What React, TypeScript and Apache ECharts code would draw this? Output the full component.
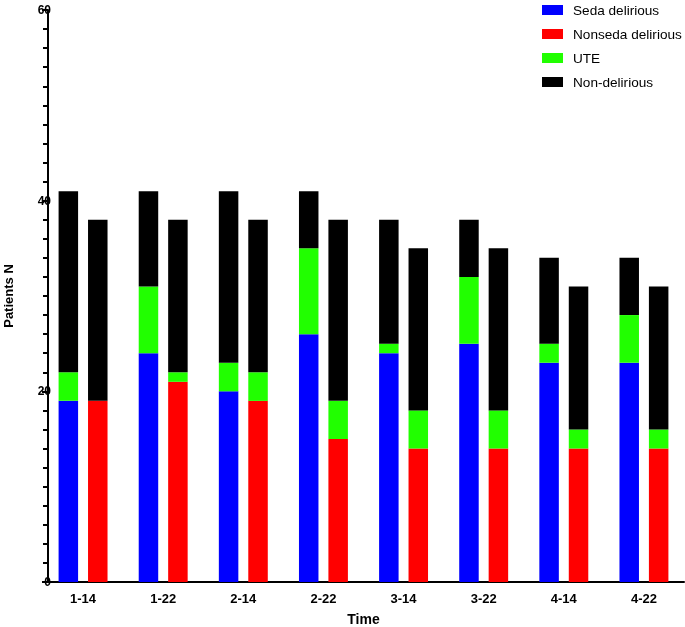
import React, { useEffect, useRef } from "react";
import * as echarts from "echarts";

const categories = ["1-14", "1-22", "2-14", "2-22", "3-14", "3-22", "4-14", "4-22"];
// Left bar of each pair
const sedaDelirious = [19, 24, 20, 26, 24, 25, 23, 23];
const uteLeft = [3, 7, 3, 9, 1, 7, 2, 5];
const nonDeliriousLeft = [19, 10, 18, 6, 13, 6, 9, 6];
// Right bar of each pair
const nonsedaDelirious = [19, 21, 19, 15, 14, 14, 14, 14];
const uteRight = [0, 1, 3, 4, 4, 4, 2, 2];
const nonDeliriousRight = [19, 16, 16, 19, 17, 17, 15, 15];

const yTicks = { min: 0, max: 60, interval: 20 };

const FONT = "'Liberation Sans', Arial, sans-serif";
const BLUE = "#0000ff";
const RED = "#ff0000";
const GREEN = "#21ff00";
const BLACK = "#000000";

export default function App() {
  const ref = useRef<HTMLDivElement>(null);
  useEffect(() => {
    if (!ref.current) return;
    const chart = echarts.init(ref.current, null, { renderer: "svg" });
    const barBase = { type: "bar" as const, barWidth: 19.5, barGap: "51%" };
    chart.setOption({
      animation: false,
      textStyle: { fontFamily: FONT },
      grid: { left: 43, right: 1, top: 10, bottom: 45, containLabel: false, outerBoundsMode: "none" },
      legend: {
        orient: "vertical",
        left: 542,
        top: 3,
        padding: 0,
        itemWidth: 21,
        itemHeight: 10,
        itemGap: 10,
        icon: "rect",
        data: ["Seda delirious", "Nonseda delirious", "UTE", "Non-delirious"],
        textStyle: { fontFamily: FONT, fontSize: 13.6, color: "#000", padding: [0, 0, 0, 5] },
      },
      xAxis: {
        type: "category",
        data: categories,
        name: "Time",
        nameLocation: "middle",
        nameGap: 30,
        nameTextStyle: { fontFamily: FONT, fontSize: 14, fontWeight: "bold", color: "#000" },
        axisLine: { lineStyle: { color: "#000", width: 2 } },
        axisTick: { alignWithLabel: true, length: 6, lineStyle: { color: "#000", width: 2 } },
        axisLabel: { fontFamily: FONT, fontSize: 13, fontWeight: "bold", color: "#000", margin: 10 },
      },
      yAxis: {
        type: "value",
        min: yTicks.min,
        max: yTicks.max,
        interval: yTicks.interval,
        offset: -5,
        name: "Patients N",
        nameLocation: "middle",
        nameGap: 33,
        nameTextStyle: { fontFamily: FONT, fontSize: 13, fontWeight: "bold", color: "#000" },
        axisLine: { show: true, lineStyle: { color: "#000", width: 2 } },
        axisTick: { show: true, length: 6, lineStyle: { color: "#000", width: 2 } },
        minorTick: { show: true, splitNumber: 10, length: 5, lineStyle: { color: "#000", width: 2 } },
        splitLine: { show: false },
        axisLabel: { fontFamily: FONT, fontSize: 12, fontWeight: "bold", color: "#000", margin: -3 },
      },
      series: [
        { ...barBase, name: "Seda delirious", stack: "L", data: sedaDelirious, itemStyle: { color: BLUE } },
        { ...barBase, name: "Nonseda delirious", stack: "R", data: nonsedaDelirious, itemStyle: { color: RED } },
        { ...barBase, name: "UTE", stack: "L", data: uteLeft, itemStyle: { color: GREEN } },
        { ...barBase, name: "UTE", stack: "R", data: uteRight, itemStyle: { color: GREEN } },
        { ...barBase, name: "Non-delirious", stack: "L", data: nonDeliriousLeft, itemStyle: { color: BLACK } },
        { ...barBase, name: "Non-delirious", stack: "R", data: nonDeliriousRight, itemStyle: { color: BLACK } },
      ],
    });
    return () => chart.dispose();
  }, []);
  return <div ref={ref} style={{ width: 685, height: 627, position: "fixed", left: 0, top: 0 }} />;
}
